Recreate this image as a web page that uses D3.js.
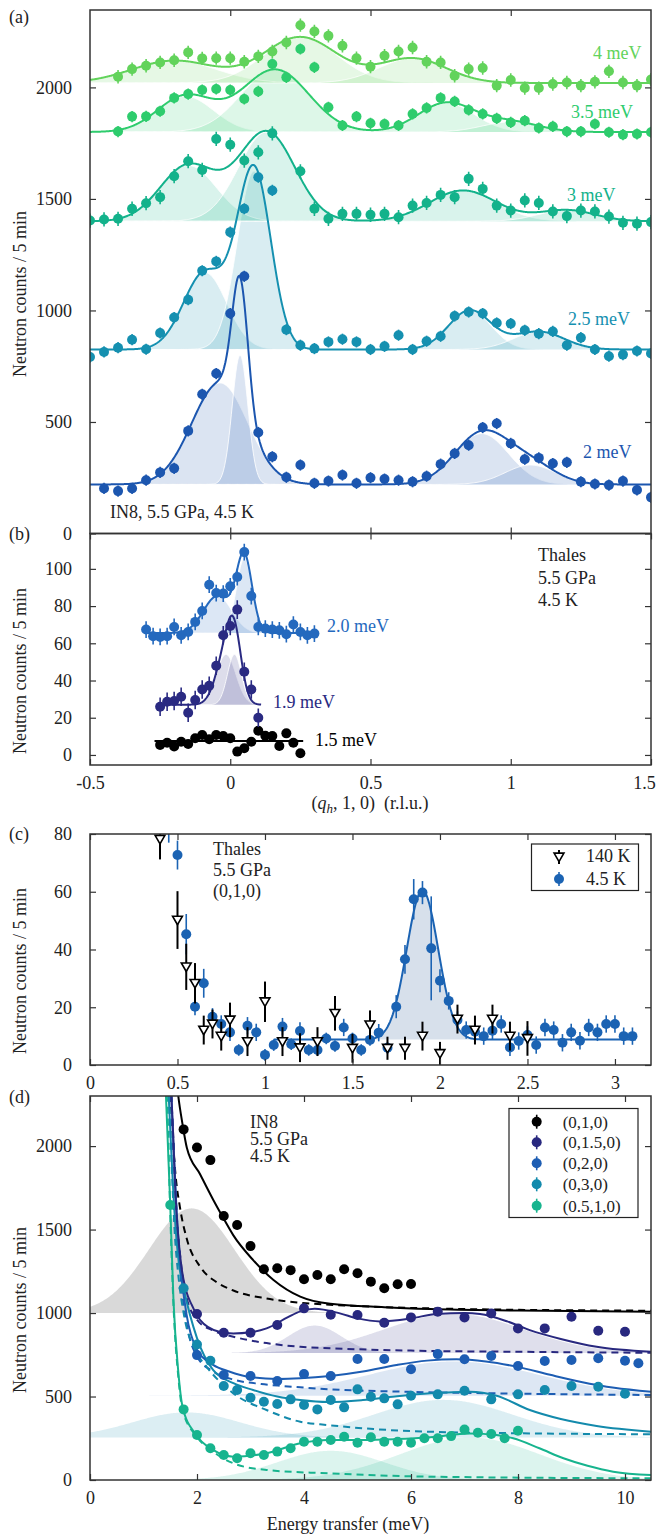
<!DOCTYPE html>
<html>
<head>
<meta charset="utf-8">
<script src="https://cdn.jsdelivr.net/npm/d3@7"></script>
<style>
  body { margin: 0; background: #fff; }
  svg text { font-family: 'Liberation Serif', 'Times New Roman', serif; }
</style>
</head>
<body>
<div id="chart"></div>
<script>
// ---------------- panel (a): IN8 constant-energy q scans ----------------
const aQ = [-0.5,-0.45,-0.4,-0.35,-0.3,-0.25,-0.2,-0.15,-0.1,-0.05,0,0.05,0.1,0.15,0.2,0.25,0.3,0.35,0.4,0.45,
            0.5,0.55,0.6,0.65,0.7,0.75,0.8,0.85,0.9,0.95,1,1.05,1.1,1.15,1.2,1.25,1.3,1.35,1.4,1.45,1.5];
const aLabels = ["4 meV", "3.5 meV", "3 meV", "2.5 meV", "2 meV"];
const a4meV  = [null,null,2048,2082,2097,2112,2122,2157,2130,2131,2131,2115,2139,2161,2201,2279,2251,2231,2187,2131,
                2093,2142,2161,2179,2115,2112,2052,2082,2087,2008,2033,1997,1997,2015,2022,2008,2025,2072,2022,2008,2035];
const a35meV = [null,null,1802,1869,1870,1893,1953,1970,1988,1993,1988,1948,1982,2105,2045,2172,2090,1911,1829,1869,
                1839,1836,1829,1881,1908,1953,1937,1899,1881,1861,1843,1851,1818,1825,1802,1802,1836,1799,1788,1791,1799];
const a3meV  = [1403,1408,1411,1456,1481,1508,1602,1669,1630,1769,1743,1672,1709,1794,null,1624,1456,1411,1433,1433,
                1429,1433,1418,1470,1482,1518,1508,1590,1545,1470,1448,1493,1482,1444,1423,1448,1444,1421,1393,1389,1396];
const a25meV = [791,814,833,869,826,899,968,1048,1178,1220,1351,1456,1597,1538,914,844,829,859,871,859,
                825,839,889,825,862,884,975,993,986,944,941,911,896,906,844,878,825,795,802,818,807];
const a2meV  = [null,202,190,202,239,274,292,460,624,717,986,1153,453,344,252,307,225,235,262,225,
                250,244,239,232,257,311,359,396,475,493,404,333,339,314,319,232,222,217,235,195,162];
const aErr = [30, 25, 32, 25, 25];
// fit: flat background + gaussians [centre, height, sigma]
const aBase = [2020, 1800, 1400, 825, 220];
const aPeaks = [
  [[-0.2, 100, 0.15], [0.25, 205, 0.13], [0.65, 110, 0.12]],
  [[-0.16, 160, 0.1], [0.16, 280, 0.12], [0.77, 130, 0.1], [1.0, 45, 0.1]],
  [[-0.15, 250, 0.1], [0.13, 400, 0.1], [0.83, 138, 0.12], [1.2, 50, 0.1]],
  [[-0.09, 345, 0.077], [0.085, 800, 0.06], [0.854, 175, 0.076], [1.1, 80, 0.09]],
  [[-0.037, 455, 0.1], [0.035, 580, 0.028], [0.896, 228, 0.096], [1.07, 87, 0.09]]
];

// ---------------- panel (b): Thales q scans ----------------
const bQ = [-0.3,-0.275,-0.25,-0.225,-0.2,-0.175,-0.15,-0.125,-0.1,-0.075,-0.05,-0.025,0,
            0.025,0.05,0.075,0.1,0.125,0.15,0.175,0.2,0.225,0.25,0.275,0.3];
const bLabels = ["2.0 meV", "1.9 meV", "1.5 meV"];
const b20meV = [67.4,63.8,63.4,63.8,68.8,64.3,66.1,71.5,77.4,91.5,87,86.7,90.6,95.6,109,85.4,68.8,67.9,67.4,67,64.9,70.1,66.1,64.3,65.2];
const b19meV = [null,null,25.9,28.6,29,31.3,22.7,29.5,35.2,37.2,47.9,64.3,69.3,78.1,44.7,35.2,20,null,null,null,null,null,null,null,null];
const b15meV = [null,null,5.4,6.6,4.5,7.1,5.9,9,10.7,8.4,10.7,10.2,9,1.8,3.6,7.1,13,10.3,10.2,4.8,11.6,6.6,0.9,null,null];
const bErr = [4.5, 5, 2.2];
const bBase = [65.5, 27, 7.5];
const bPeaks = [
  [[-0.045, 20, 0.05], [0.05, 40, 0.028]],
  [[-0.015, 27, 0.035], [0.015, 27, 0.025]],
  []
];
const bFitRange = [[-0.3, 0.3], [-0.25, 0.11], [-0.27, 0.26]];

// ---------------- panel (c): Thales energy scans at (0,1,0) ----------------
const cE45 = [0.45,0.5,0.55,0.6,0.65,0.7,0.75,0.8,0.85,0.9,0.95,1,1.05,1.1,1.15,1.2,1.25,1.3,1.35,1.4,
              1.45,1.5,1.55,1.6,1.65,1.7,1.75,1.8,1.85,1.9,1.95,2,2.05,2.1,2.15,2.2,2.25,2.3,2.35,2.4,
              2.45,2.5,2.55,2.6,2.65,2.7,2.75,2.8,2.85,2.9,2.95,3,3.05,3.1];
const cV45 = [88,72.7,45.3,20.2,28.3,16.7,14.2,11.3,5.2,13.6,11.3,3.5,6.9,13.3,7.2,11.8,5.2,5.2,9.2,6.6,
              13,9.2,5.2,8.7,11.2,6,20.2,36.6,57.4,59.7,40.4,29.2,22.2,15.6,12.1,11.5,10,11.9,14.2,6.1,
              8.3,10.4,6.9,13,12.1,7.7,11.3,8.4,13,11.3,14.2,14.2,10,10];
const cErr45 = [11,5,7,3,5,3,3,3,2,3,3,2,2,3,2,3,2,2,2,2,
                3,2,2,2,3,2,4,5,7,4,18,4,3,3,3,3,3,3,3,3,
                3,3,3,3,3,3,3,3,3,3,3,3,3,3];
const cE140 = [0.4,0.5,0.55,0.6,0.65,0.7,0.75,0.8,0.9,1,1.1,1.2,1.3,1.4,1.5,1.6,1.7,1.8,1.9,2,2.1,2.2,2.3,2.4,2.5];
const cV140 = [78.2,50.2,34,28.3,12.1,14.2,10,15.6,8.1,21.9,8.1,6,8.1,17.9,5.8,13.9,5.8,5.8,10,4,15.9,12.1,15.9,10,9.2];
const cErr140 = [7,10,8,7,5,5,5,6,5,7,5,5,5,6,5,5,4,4,5,4,5,5,5,5,6];
const cLegend = ["140 K", "4.5 K"];
const cBase = 8.8;
const cPeak = [1.9, 51.6, 0.09];
const cFitRange = [1.05, 3.12];

// ---------------- panel (d): IN8 energy scans ----------------
const dLabels = ["(0,1,0)", "(0,1.5,0)", "(0,2,0)", "(0,3,0)", "(0.5,1,0)"];
const dE010  = [1.75,2,2.25,2.5,2.75,3,3.25,3.5,3.75,4,4.25,4.5,4.75,5,5.25,5.5,5.75,6];
const dV010  = [2100,1992,1916,1581,1527,1401,1262,1268,1257,1202,1228,1202,1262,1238,1188,1148,1172,1174];
const dE0150 = [2,2.5,3,3.5,4,4.5,5,5.5,6,6.5,7,7.5,8,8.5,9,9.5,10];
const dV0150 = [994,882,882,928,1028,990,988,942,974,1008,974,998,908,908,978,894,888];
const dE020  = [2,2.5,3,3.5,4,4.5,5,5.5,6,6.5,7,7.5,8,8.5,9,9.5,10,10.25];
const dV020  = [748,629,623,593,635,623,725,725,663,754,723,743,683,713,719,729,714,699];
const dE030  = [1.75,2,2.25,2.5,2.75,3,3.25,3.5,3.75,4,4.25,4.5,4.75,5,5.25,5.5,5.75,6,6.5,7,7.5,8,8.5,9,9.5,10];
const dV030  = [1148,812,714,563,539,493,469,455,483,449,423,479,435,543,499,489,453,505,513,535,483,513,539,563,559,517];
const dE0510 = [1.5,1.75,2,2.25,2.5,2.75,3,3.25,3.5,3.75,4,4.25,4.5,4.75,5,5.25,5.5,5.75,6,6.25,6.5,6.75,7,7.25,7.5,7.75,8];
const dV0510 = [1647,423,269,190,150,130,160,150,170,190,229,229,240,259,223,256,229,229,223,250,250,263,303,283,275,250,295];
const dErr = [25, 18, 18, 18, 18];
// total fit (solid) and quasi-elastic background (dashed)
const dFit = [
  [[1.6,2450],[1.65,2300],[1.73,2130],[1.81,1990],[2.06,1830],[2.3,1680],[2.49,1570],[2.68,1465],[3.05,1317],[3.43,1198],[3.93,1098],[4.49,1055],[5.5,1035],[6.36,1024],[8,1015],[10.5,1008]],
  [[1.5,2450],[1.55,2100],[1.6,1700],[1.7,1300],[1.8,1130],[1.9,1050],[2.06,958],[2.4,890],[2.68,878],[3,885],[3.3,908],[3.7,975],[3.93,1010],[4.2,1025],[4.67,998],[5,968],[5.42,950],[6,968],[6.48,995],[7,1000],[7.29,994],[7.8,950],[8.22,898],[8.8,845],[9.47,798],[10.5,768]],
  [[1.5,2450],[1.56,2000],[1.62,1600],[1.7,1250],[1.8,1000],[2,780],[2.3,690],[2.6,650],[2.99,617],[3.5,605],[3.93,609],[4.49,623],[5.1,650],[5.73,689],[6.3,715],[6.85,723],[7.4,710],[7.97,679],[8.6,630],[9.16,589],[9.8,552],[10.5,528]],
  [[1.45,2450],[1.5,2100],[1.58,1600],[1.66,1300],[1.75,1150],[2,850],[2.3,659],[2.68,580],[3.05,539],[3.5,500],[3.93,479],[4.45,467],[5.1,479],[5.7,500],[6.36,519],[7.1,529],[7.6,505],[8.22,419],[8.8,365],[9.47,323],[10.5,289]],
  [[1.4,2450],[1.42,2300],[1.5,1647],[1.56,1078],[1.65,650],[1.73,439],[1.97,275],[2.3,180],[2.68,140],[3.3,160],[3.93,220],[4.45,240],[5.1,240],[5.7,245],[6.36,256],[7.1,279],[7.6,270],[7.91,250],[8.4,190],[8.85,130],[9.3,85],[9.78,50],[10.5,30]]
];
const dBg = [
  [[1.48,2450],[1.52,2220],[1.55,2047],[1.59,1860],[1.68,1636],[1.81,1444],[2.06,1277],[2.37,1184],[2.68,1135],[3.3,1087],[3.93,1062],[5,1042],[7,1024],[10.5,1014]],
  [[1.5,2450],[1.55,2100],[1.6,1700],[1.7,1300],[1.8,1100],[2,960],[2.3,895],[2.68,858],[3.3,820],[3.93,798],[4.49,789],[6,775],[8,768],[10.5,762]],
  [[1.5,2450],[1.56,2000],[1.62,1600],[1.7,1200],[1.8,950],[2,740],[2.3,650],[2.7,600],[3.2,575],[3.61,563],[4.49,543],[6,528],[7.6,519],[10.5,509]],
  [[1.45,2450],[1.5,2100],[1.58,1500],[1.66,1200],[1.75,1000],[2,760],[2.18,678],[2.68,519],[3.3,419],[3.93,349],[4.45,329],[5.3,305],[6.36,289],[8,280],[10.5,274]],
  [[1.4,2450],[1.45,2200],[1.5,1600],[1.56,1050],[1.65,620],[1.73,420],[2,258],[2.3,170],[2.68,100],[3.3,60],[4.45,40],[6.36,20],[10.5,10]]
];
// gaussian components shaded under the fits
const dBase = [1000, 760, 505, 255, 0];
const dPeaks = [
  [[1.9, 627, 0.8]],
  [[4.2, 165, 0.5], [6.8, 235, 1.3]],
  [[6.8, 205, 1.6]],
  [[1.8, 150, 1.0], [6.6, 225, 1.3]],
  [[4.5, 175, 1.0], [7.1, 255, 1.3]]
];

// ---------------- styles ----------------
const FONT = "'Liberation Serif', 'Times New Roman', serif";
const aColors = ["#62d35b", "#2ecc6d", "#13b28b", "#1590b0", "#1c56af"];
const bColors = ["#2469be", "#2a2a82", "#000000"];
const cColor = "#1b63b3";
const dColors = ["#000000", "#28287f", "#1d5db3", "#138aac", "#17b48e"];

const svg = d3.select("#chart").append("svg").attr("width", 660).attr("height", 1534);
const defs = svg.append("defs");
const L = 90, R = 651;

const gauss = (x, p) => p[1] * Math.exp(-((x - p[0]) ** 2) / (2 * p[2] * p[2]));

function panel(id, x, y) {
  const [x0, x1] = x.range(), [yb, yt] = y.range();
  defs.append("clipPath").attr("id", "clip-" + id)
    .append("rect").attr("x", x0).attr("y", yt).attr("width", x1 - x0).attr("height", yb - yt);
  const g = svg.append("g");
  const plot = g.append("g").attr("clip-path", `url(#clip-${id})`);
  return { g, plot };
}

function axes(g, x, y, xTicks, yTicks, showX) {
  const [xl, xr] = x.range(), [yb, yt] = y.range();
  const fmt = d => String(d);
  const none = () => "";
  const style = sel => {
    sel.attr("font-family", null).attr("font-size", null);
    sel.select(".domain").remove();
    sel.selectAll(".tick line").attr("stroke", "#333").attr("stroke-width", 1.2);
    sel.selectAll(".tick text").attr("font-family", FONT).attr("font-size", 18).attr("fill", "#222");
  };
  const bottom = g.append("g").attr("transform", `translate(0,${yb})`)
    .call(d3.axisBottom(x).tickValues(xTicks).tickSize(-6).tickPadding(11).tickFormat(showX ? fmt : none)).call(style);
  // keep a label sitting on the right frame inside the page
  bottom.selectAll(".tick text").filter(d => x(d) > xr - 2).attr("dx", -7);
  g.append("g").attr("transform", `translate(0,${yt})`)
    .call(d3.axisTop(x).tickValues(xTicks).tickSize(-6).tickFormat(none)).call(style);
  g.append("g").attr("transform", `translate(${xl},0)`)
    .call(d3.axisLeft(y).tickValues(yTicks).tickSize(-6).tickPadding(18).tickFormat(fmt)).call(style);
  g.append("g").attr("transform", `translate(${xr},0)`)
    .call(d3.axisRight(y).tickValues(yTicks).tickSize(-6).tickFormat(none)).call(style);
  g.append("rect").attr("x", xl).attr("y", yt).attr("width", xr - xl).attr("height", yb - yt)
    .attr("fill", "none").attr("stroke", "#333").attr("stroke-width", 1.5);
}

function yTitle(yc) {
  svg.append("text").attr("transform", `translate(26,${yc}) rotate(-90)`)
    .attr("text-anchor", "middle").attr("font-size", 18).attr("fill", "#222")
    .text("Neutron counts / 5 min");
}

function label(txt, x, y, color, size) {
  svg.append("text").attr("x", x).attr("y", y).attr("font-size", size || 18)
    .attr("fill", color || "#222").text(txt);
}

function points(g, xs, vs, errs, x, y, color) {
  const pts = xs.map((xv, i) => ({ x: xv, v: vs[i], e: Array.isArray(errs) ? errs[i] : errs }))
    .filter(d => d.v != null);
  g.append("g").selectAll("line").data(pts).join("line")
    .attr("x1", d => x(d.x)).attr("x2", d => x(d.x))
    .attr("y1", d => y(d.v - d.e)).attr("y2", d => y(d.v + d.e))
    .attr("stroke", color).attr("stroke-width", 1.6);
  g.append("g").selectAll("circle").data(pts).join("circle")
    .attr("cx", d => x(d.x)).attr("cy", d => y(d.v)).attr("r", 5).attr("fill", color);
}

function gaussFills(g, x, y, base, peaks, dom, color, op, step) {
  const xs = d3.range(dom[0], dom[1] + step / 2, step);
  peaks.forEach(p => {
    g.append("path").datum(xs)
      .attr("d", d3.area().x(q => x(q)).y0(y(base)).y1(q => y(base + gauss(q, p))))
      .attr("fill", color).attr("fill-opacity", op);
    g.append("path").datum(xs)
      .attr("d", d3.line().x(q => x(q)).y(q => y(base + gauss(q, p))))
      .attr("fill", "none").attr("stroke", "#fff").attr("stroke-width", 0.9).attr("stroke-opacity", 0.9);
  });
}

function fitLine(g, x, y, base, peaks, dom, color, step) {
  const xs = d3.range(dom[0], dom[1] + step / 2, step);
  g.append("path").datum(xs)
    .attr("d", d3.line().x(q => x(q)).y(q => y(base + d3.sum(peaks, p => gauss(q, p)))))
    .attr("fill", "none").attr("stroke", color).attr("stroke-width", 2);
}

// ================= (a) =================
const xQa = d3.scaleLinear().domain([-0.5, 1.5]).range([L, R]);
const yA = d3.scaleLinear().domain([0, 2347]).range([533.5, 10]);
const pa = panel("a", xQa, yA);
const aSeries = [a4meV, a35meV, a3meV, a25meV, a2meV];
for (let i = 4; i >= 0; i--) gaussFills(pa.plot, xQa, yA, aBase[i], aPeaks[i], [-0.5, 1.5], aColors[i], 0.16, 0.004);
for (let i = 4; i >= 0; i--) fitLine(pa.plot, xQa, yA, aBase[i], aPeaks[i], [-0.5, 1.5], aColors[i], 0.0025);
for (let i = 4; i >= 0; i--) points(pa.plot, aQ, aSeries[i], aErr[i], xQa, yA, aColors[i]);
axes(pa.g, xQa, yA, [0, 0.5, 1], [0, 500, 1000, 1500, 2000], false);
const aLabelPos = [[593, 59], [571, 118], [567, 201], [568, 325], [583, 458]];
aLabels.forEach((t, i) => label(t, aLabelPos[i][0], aLabelPos[i][1], aColors[i]));
label("IN8, 5.5 GPa, 4.5 K", 110, 518);
label("(a)", 9, 23);
yTitle(294);

// ================= (b) =================
const yB = d3.scaleLinear().domain([-5.4, 119]).range([765, 533.5]);
const pb = panel("b", xQa, yB);
const bSeries = [b20meV, b19meV, b15meV];
for (let i = 0; i < 3; i++) gaussFills(pb.plot, xQa, yB, bBase[i], bPeaks[i], bFitRange[i], bColors[i], 0.16, 0.002);
for (let i = 0; i < 3; i++) fitLine(pb.plot, xQa, yB, bBase[i], bPeaks[i], bFitRange[i], bColors[i], 0.002);
for (let i = 2; i >= 0; i--) points(pb.plot, bQ, bSeries[i], bErr[i], xQa, yB, bColors[i]);
axes(pb.g, xQa, yB, [-0.5, 0, 0.5, 1, 1.5], [0, 20, 40, 60, 80, 100], true);
const bLabelPos = [[327, 632], [273, 708], [315, 746]];
bLabels.forEach((t, i) => label(t, bLabelPos[i][0], bLabelPos[i][1], bColors[i]));
label("Thales", 538, 561); label("5.5 GPa", 538, 584); label("4.5 K", 538, 606);
label("(b)", 9, 540);
yTitle(671);
{
  const t = svg.append("text").attr("x", 370).attr("y", 809).attr("text-anchor", "middle")
    .attr("font-size", 18).attr("fill", "#222");
  t.append("tspan").text("(");
  t.append("tspan").attr("font-style", "italic").text("q");
  t.append("tspan").attr("font-style", "italic").attr("font-size", 13).attr("dy", 4).text("h");
  t.append("tspan").attr("dy", -4).text(", 1, 0)\u2002(r.l.u.)");
}

// ================= (c) =================
const xC = d3.scaleLinear().domain([0, 3.206]).range([L, R]);
const yC = d3.scaleLinear().domain([0, 80]).range([1065, 834]);
const pc = panel("c", xC, yC);
gaussFills(pc.plot, xC, yC, cBase, [cPeak], cFitRange, "#6f8fb8", 0.28, 0.005);
fitLine(pc.plot, xC, yC, cBase, [cPeak], cFitRange, cColor, 0.005);
points(pc.plot, cE45, cV45, cErr45, xC, yC, cColor);
{
  const pts = cE140.map((e, i) => ({ e, v: cV140[i], s: cErr140[i] }));
  pc.plot.append("g").selectAll("line").data(pts).join("line")
    .attr("x1", d => xC(d.e)).attr("x2", d => xC(d.e))
    .attr("y1", d => yC(d.v - d.s)).attr("y2", d => yC(d.v + d.s))
    .attr("stroke", "#000").attr("stroke-width", 2);
  pc.plot.append("g").selectAll("path").data(pts).join("path")
    .attr("d", d3.symbol(d3.symbolTriangle, 42)())
    .attr("transform", d => `translate(${xC(d.e)},${yC(d.v) - 1}) rotate(180)`)
    .attr("fill", "#fff").attr("stroke", "#000").attr("stroke-width", 1.6);
}
axes(pc.g, xC, yC, [0, 0.5, 1, 1.5, 2, 2.5, 3], [0, 20, 40, 60, 80], true);
label("Thales", 213, 855); label("5.5 GPa", 213, 876); label("(0,1,0)", 213, 897);
label("(c)", 9, 840);
yTitle(971);
{
  const lg = svg.append("g");
  lg.append("rect").attr("x", 531.5).attr("y", 844).attr("width", 107).attr("height", 46.5)
    .attr("fill", "#fff").attr("stroke", "#222").attr("stroke-width", 1.2);
  lg.append("line").attr("x1", 559).attr("x2", 559).attr("y1", 850).attr("y2", 864).attr("stroke", "#000").attr("stroke-width", 2);
  lg.append("path").attr("d", d3.symbol(d3.symbolTriangle, 42)())
    .attr("transform", "translate(559,856) rotate(180)").attr("fill", "#fff").attr("stroke", "#000").attr("stroke-width", 1.6);
  lg.append("line").attr("x1", 559).attr("x2", 559).attr("y1", 872).attr("y2", 886).attr("stroke", cColor).attr("stroke-width", 1.6);
  lg.append("circle").attr("cx", 559).attr("cy", 879).attr("r", 5).attr("fill", cColor);
  label(cLegend[0], 586, 862); label(cLegend[1], 586, 885);
}

// ================= (d) =================
const xD = d3.scaleLinear().domain([0, 10.486]).range([L, R]);
const yD = d3.scaleLinear().domain([0, 2300]).range([1480, 1096]);
const pd = panel("d", xD, yD);
const dE = [dE010, dE0150, dE020, dE030, dE0510];
const dV = [dV010, dV0150, dV020, dV030, dV0510];
for (let i = 0; i < 5; i++) {
  dPeaks[i].forEach(p => {
    const xs = d3.range(0, 10.5, 0.02);
    pd.plot.append("path").datum(xs)
      .attr("d", d3.area().x(e => xD(e)).y0(yD(dBase[i])).y1(e => yD(dBase[i] + gauss(e, p))))
      .attr("fill", dColors[i]).attr("fill-opacity", 0.15);
  });
}
const dLine = d3.line().x(d => xD(d[0])).y(d => yD(d[1])).curve(d3.curveMonotoneX);
for (let i = 0; i < 5; i++) {
  pd.plot.append("path").datum(dBg[i]).attr("d", dLine).attr("fill", "none")
    .attr("stroke", dColors[i]).attr("stroke-width", 2).attr("stroke-dasharray", "7,5");
}
for (let i = 4; i >= 0; i--) {
  pd.plot.append("path").datum(dFit[i]).attr("d", dLine).attr("fill", "none")
    .attr("stroke", dColors[i]).attr("stroke-width", 2);
}
for (let i = 0; i < 5; i++) points(pd.plot, dE[i], dV[i], dErr[i], xD, yD, dColors[i]);
axes(pd.g, xD, yD, [0, 2, 4, 6, 8, 10], [0, 500, 1000, 1500, 2000], true);
label("IN8", 250, 1128); label("5.5 GPa", 250, 1145); label("4.5 K", 250, 1162);
label("(d)", 9, 1103);
yTitle(1310);
svg.append("text").attr("x", 348).attr("y", 1530).attr("text-anchor", "middle")
  .attr("font-size", 18).attr("fill", "#222").text("Energy transfer (meV)");
{
  const lg = svg.append("g");
  lg.append("rect").attr("x", 509).attr("y", 1108.5).attr("width", 129).attr("height", 109)
    .attr("fill", "#fff").attr("stroke", "#222").attr("stroke-width", 1.2);
  const rows = [1121.7, 1142.3, 1163.3, 1184.3, 1205.7];
  dLabels.forEach((t, i) => {
    lg.append("line").attr("x1", 536.7).attr("x2", 536.7).attr("y1", rows[i] - 7).attr("y2", rows[i] + 7)
      .attr("stroke", dColors[i]).attr("stroke-width", 1.6);
    lg.append("circle").attr("cx", 536.7).attr("cy", rows[i]).attr("r", 5).attr("fill", dColors[i]);
    label(t, 562.7, rows[i] + 6, "#222", 17);
  });
}
</script>
</body>
</html>
